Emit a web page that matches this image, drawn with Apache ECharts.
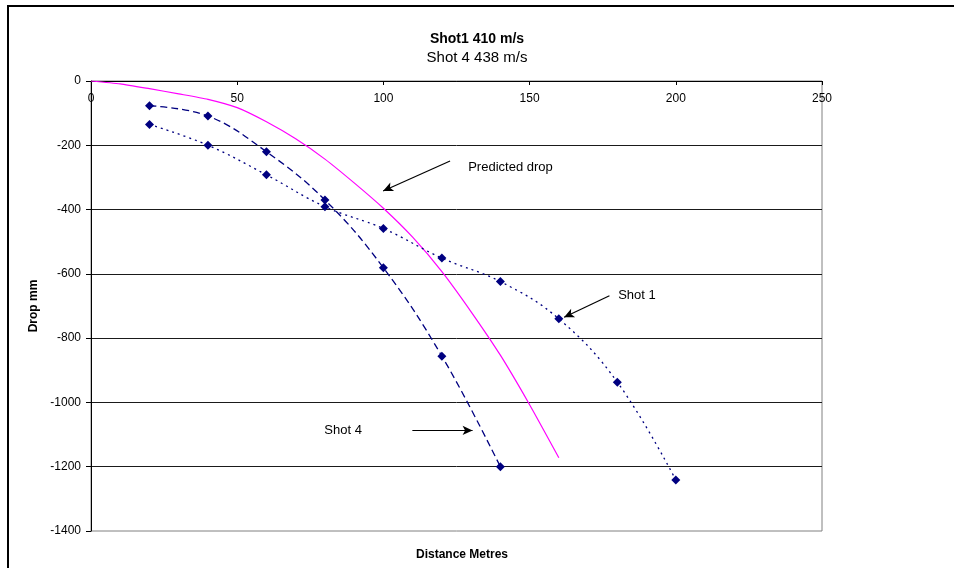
<!DOCTYPE html>
<html>
<head>
<meta charset="utf-8">
<script src="https://cdn.jsdelivr.net/npm/echarts@6/dist/echarts.min.js"></script>
<style>html,body{margin:0;padding:0;background:#fff}#c{width:954px;height:568px}</style>
</head>
<body>
<div id="c"></div>
<script>
// ---- data ----
const titleMain = 'Shot1 410 m/s';
const titleSub = 'Shot 4 438 m/s';
const xName = 'Distance Metres';
const yName = 'Drop mm';

const shot1 = [[20,-135],[40,-200],[60,-292],[80,-391],[100,-459],[120,-551],[140,-624],[160,-740],[180,-937],[200,-1241]];
const shot4 = [[20,-77],[40,-109],[60,-220],[80,-370],[100,-581],[120,-856],[140,-1200]];
const predicted = [[0,0],[10,-9],[20,-24],[30,-40],[40,-57],[50,-83],[60,-127],[70,-180],[80,-243],[90,-317],[100,-396],[110,-486],[120,-593],[130,-718],[140,-853],[150,-1007],[160,-1172]];

// annotation labels (data coords) and arrows [from, to]
const noteLabels = [['Predicted drop',129,-268],['Shot 1',180.3,-666],['Shot 4',79.8,-1087]];
const noteArrows = [[[122.8,-249],[99.9,-342]],[[177.3,-668],[161.8,-735]],[[109.9,-1087],[130.5,-1087]]];

const xTicks = {min:0, max:250, interval:50};
const yTicks = {min:-1400, max:0, interval:200};

const FONT = '"Liberation Sans", Arial, sans-serif';
const NAVY = '#000080';

const chart = echarts.init(document.getElementById('c'), null, {renderer:'canvas'});
chart.setOption({
  animation:false,
  backgroundColor:'#fff',
  textStyle:{fontFamily:FONT},
  title:[
    {text:titleMain, left:'center', top:27, textStyle:{fontSize:14, fontWeight:'bold', color:'#000', fontFamily:FONT}},
    {text:titleSub, left:'center', top:45, textStyle:{fontSize:15, fontWeight:'normal', color:'#000', fontFamily:FONT}},
    {text:xName, left:457, textAlign:'center', top:544, textStyle:{fontSize:12, fontWeight:'bold', color:'#000', fontFamily:FONT}}
  ],
  graphic:[
    {type:'line', shape:{x1:8, y1:6, x2:8, y2:568}, style:{stroke:'#000', lineWidth:2}},
    {type:'line', shape:{x1:7, y1:6, x2:954, y2:6}, style:{stroke:'#000', lineWidth:2}}
  ],
  grid:{left:91, right:132, top:81, bottom:37, show:true, borderColor:'#808080', borderWidth:1, containLabel:false, outerBoundsMode:'none'},
  xAxis:{
    type:'value', position:'top', min:xTicks.min, max:xTicks.max, interval:xTicks.interval,
    axisLine:{show:true, onZero:false, lineStyle:{color:'#000', width:1}},
    axisTick:{show:true, inside:true, length:4, lineStyle:{color:'#000'}},
    axisLabel:{inside:true, margin:12, fontSize:12, color:'#000', fontFamily:FONT, formatter:v=>String(v)},
    splitLine:{show:false}
  },
  yAxis:{
    type:'value', min:yTicks.min, max:yTicks.max, interval:yTicks.interval,
    name:yName, nameLocation:'middle', nameGap:43,
    nameTextStyle:{fontSize:12, fontWeight:'bold', color:'#000', fontFamily:FONT},
    axisLine:{show:true, onZero:false, lineStyle:{color:'#000', width:1}},
    axisTick:{show:true, inside:false, length:5, lineStyle:{color:'#000'}},
    axisLabel:{margin:10, fontSize:12, color:'#000', fontFamily:FONT, formatter:v=>String(v)},
    splitLine:{show:true, showMinLine:false, lineStyle:{color:'#1a1a1a', width:1}}
  },
  series:[
    {name:'Predicted drop', type:'line', data:predicted, showSymbol:false, symbol:'none', smooth:0.2,
     lineStyle:{color:'#FF00FF', width:1.2}, z:3},
    {name:'Shot 1', type:'line', data:shot1, smooth:0.4, symbol:'diamond', symbolSize:9,
     itemStyle:{color:NAVY}, lineStyle:{color:NAVY, width:1.3, type:[2,4]}, z:4},
    {name:'Shot 4', type:'line', data:shot4, smooth:0.4, symbol:'diamond', symbolSize:9,
     itemStyle:{color:NAVY}, lineStyle:{color:NAVY, width:1.3, type:[7,4]}, z:4},
    {name:'notes', type:'scatter', data:noteLabels.map(n=>({name:n[0], value:[n[1],n[2]]})),
     symbolSize:0, silent:true,
     label:{show:true, position:'right', distance:0, formatter:p=>p.name, fontSize:13, color:'#000', opacity:1, fontFamily:FONT},
     markLine:{silent:true, symbol:['none','arrow'], symbolSize:[7,10], label:{show:false},
       lineStyle:{color:'#000', width:1.2, type:'solid'},
       data:noteArrows.map(a=>[{coord:a[0]},{coord:a[1]}])}, z:5}
  ]
});
</script>
</body>
</html>
